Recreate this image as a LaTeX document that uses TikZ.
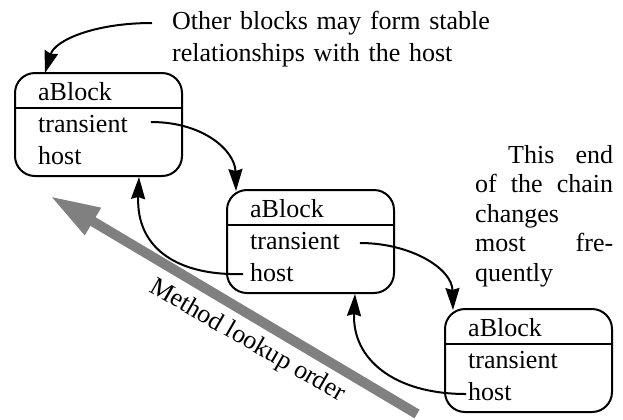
\documentclass[tikz,border=0pt]{standalone}
\usepackage{fontspec}
\setmainfont{Liberation Serif}
\usetikzlibrary{arrows.meta,calc}
\begin{document}
\begin{tikzpicture}[x=1bp,y=-1bp,
  blk/.style={draw, line width=2bp, rounded corners=20bp, minimum width=167bp, minimum height=103bp, inner sep=0pt, outer sep=0pt, anchor=north west},
  txt/.style={anchor=base west, inner sep=0pt, font=\fontsize{26bp}{32bp}\selectfont},
  arr/.style={line width=2bp, -{Stealth[length=22bp,width=14bp,inset=2bp]}},
  divider/.style={line width=2bp},
  lookup/.style={draw=gray, line width=10bp, -{Triangle[length=50bp,width=29bp]}},
]
\useasboundingbox (0,0) rectangle (623,419);

% blocks
\node[blk] (b1) at (15,73) {};
\node[blk] (b2) at (227,190) {};
\node[blk] (b3) at (445,309) {};
\foreach \b in {b1,b2,b3}{
  \draw[divider] ($(\b.north west)+(0,35)$) -- ($(\b.north east)+(0,35)$);
  \node[txt] (\b n) at ($(\b.north west)+(23,27)$) {aBlock};
  \node[txt] (\b t) at ($(\b.north west)+(23,59)$) {transient};
  \node[txt] (\b h) at ($(\b.north west)+(23,91)$) {host};
}

% texts
\node[txt, text width=340bp, align=left] (note) at (172,29) {Other blocks may form stable\\relationships with the host};
\node[txt, text width=138bp, align=left, font=\fontsize{26bp}{29.5bp}\selectfont] (chain) at (475,163)
  {\hspace*{33bp}This\hfill end\\of\hfill the\hfill chain\\changes\\most\hfill fre-\\quently};

% lookup arrow
\coordinate (g0) at (417,414);
\coordinate (g1) at (50,196);
\draw[lookup] (g0) -- (g1);
\node[txt, rotate=-30] (lbl) at (148,291) {Method lookup order};

% connectors
\coordinate (s1) at ($(note.base west)+(-20,-6)$);
\draw[arr] (s1) .. controls +(-57,0) and +(10,-33) .. ($(b1.north west)+(30,0)$);
\coordinate (s2) at ($(b1t.base east)+(23,-10)$);
\draw[arr] (s2) .. controls +(53,0) and +(-1,-40) .. ($(b2.north west)+(9,1)$);
\coordinate (s3) at ($(b2h.base west)+(-7,-7)$);
\draw[arr] (s3) .. controls +(-63,2) and +(-3,73) .. ($(b1.south west)+(124,1)$);
\coordinate (s4) at ($(b2t.base east)+(20,-6)$);
\draw[arr] (s4) .. controls +(50,0) and +(-1,-42) .. ($(b3.north west)+(8,1)$);
\coordinate (s5) at ($(b3h.base west)+(-2,-6)$);
\draw[arr] (s5) .. controls +(-72,0) and +(-3,65) .. ($(b2.south west)+(128,1)$);
\end{tikzpicture}
\end{document}
